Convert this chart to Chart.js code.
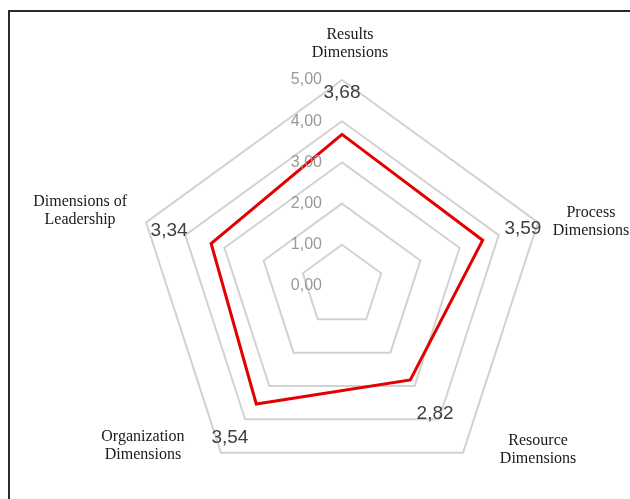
<!DOCTYPE html>
<html>
<head>
<meta charset="utf-8">
<script src="https://cdn.jsdelivr.net/npm/chart.js@4.4.1/dist/chart.umd.min.js"></script>
<style>
  html, body { margin: 0; padding: 0; background: #fff; overflow: hidden; }
  #radar { display: block; }
</style>
</head>
<body>
<canvas id="radar" width="630" height="499"></canvas>
<script>
const categories = [
  ["Results", "Dimensions"],
  ["Process", "Dimensions"],
  ["Resource", "Dimensions"],
  ["Organization", "Dimensions"],
  ["Dimensions of", "Leadership"],
];
const scores = [3.68, 3.59, 2.82, 3.54, 3.34];
const tickValues = [0, 1, 2, 3, 4, 5];

// label offsets from the outer ring vertex (pixels)
const valueLabelOffsets = [[0, 13], [-15, 6], [-28, -39], [9, -15], [23, 8]];
const nameLabelOffsets = [[8, -36], [53, -1], [75, -3], [-78, -7], [-66, -12]];

function formatComma(v) {
  return v.toFixed(2).replace(".", ",");
}

const radarCanvas = document.getElementById("radar");

const frameAndLabels = {
  id: "frameAndLabels",
  beforeDraw(chart) {
    const ctx = chart.ctx;
    ctx.save();
    ctx.strokeStyle = "#2b2b2b";
    ctx.lineWidth = 2;
    ctx.strokeRect(9, 11, 700, 600);
    ctx.restore();
  },
  afterDatasetsDraw(chart) {
    const ctx = chart.ctx;
    const scale = chart.scales.r;
    ctx.save();

    // tick labels, left of the vertical axis
    ctx.font = "16px 'Liberation Sans'";
    ctx.fillStyle = "#999999";
    ctx.textAlign = "right";
    ctx.textBaseline = "middle";
    for (const v of tickValues) {
      const p = scale.getPointPositionForValue(0, v);
      ctx.fillText(formatComma(v), p.x - 20, p.y);
    }

    // value labels near the outer ring
    ctx.font = "19px 'Liberation Sans'";
    ctx.fillStyle = "#404040";
    ctx.textAlign = "center";
    scores.forEach((s, i) => {
      const p = scale.getPointPositionForValue(i, scale.max);
      ctx.fillText(formatComma(s), p.x + valueLabelOffsets[i][0], p.y + valueLabelOffsets[i][1]);
    });

    // category names
    ctx.font = "16px 'Liberation Serif'";
    ctx.fillStyle = "#1a1a1a";
    categories.forEach((lines, i) => {
      const p = scale.getPointPositionForValue(i, scale.max);
      const cx = p.x + nameLabelOffsets[i][0];
      const cy = p.y + nameLabelOffsets[i][1];
      const lh = 18;
      lines.forEach((line, j) => {
        ctx.fillText(line, cx, cy + (j - (lines.length - 1) / 2) * lh);
      });
    });
    ctx.restore();
  },
};

new Chart(radarCanvas, {
  type: "radar",
  data: {
    labels: categories,
    datasets: [
      {
        data: scores,
        borderColor: "#e40000",
        borderWidth: 3,
        fill: false,
        pointRadius: 0,
        tension: 0,
      },
    ],
  },
  options: {
    responsive: false,
    animation: false,
    layout: { padding: { left: 136, right: 82, top: 80, bottom: 7 } },
    plugins: { legend: { display: false }, tooltip: { enabled: false } },
    scales: {
      r: {
        min: 0,
        max: 5,
        ticks: { stepSize: 1, display: false },
        grid: { color: "#d2d2d2", lineWidth: 2 },
        angleLines: { display: false },
        pointLabels: { display: false },
      },
    },
  },
  plugins: [frameAndLabels],
});
</script>
</body>
</html>
